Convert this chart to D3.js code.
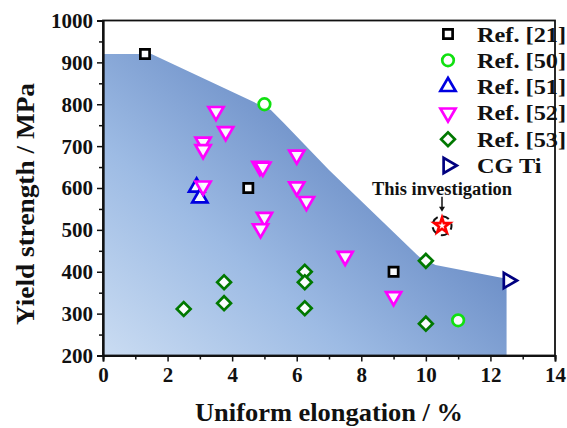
<!DOCTYPE html>
<html><head><meta charset="utf-8">
<script src="https://cdn.jsdelivr.net/npm/d3@7"></script>
<style>body{margin:0;background:#fff}svg{display:block}text{font-family:"Liberation Serif","Times New Roman",serif;font-weight:bold}</style>
</head><body>
<script>
const ref21 = [[1.3,920],[4.5,600],[9.0,400]];
const ref50 = [[5.0,800],[11.0,284]];
const ref51 = [[2.9,602],[3.0,576]];
const ref52 = [[3.5,783],[3.8,735],[3.1,710],[3.1,692],[3.1,605],[4.86,652],[4.95,650],[6.0,679],[6.0,603],[6.3,568],[5.0,530],[4.88,503],[7.5,437],[9.0,341]];
const ref53 = [[2.5,311],[3.75,375],[3.75,325],[6.25,400],[6.25,375],[6.25,313],[10.0,426],[10.0,276]];
const cgTi = [[12.55,379]];
const thisWork = [[10.5,510]];
const envelope = [[0,920],[1.5,920],[5.2,786],[5.6,755],[7.0,643],[9.8,435],[10.3,416],[12.5,383],[12.5,200],[0,200]];
const legendLabels = ["Ref. [21]","Ref. [50]","Ref. [51]","Ref. [52]","Ref. [53]","CG Ti"];
const xTicks = [0,2,4,6,8,10,12,14];
const yTicks = [200,300,400,500,600,700,800,900,1000];

const W=567,H=428;
const svg=d3.select("body").append("svg").attr("width",W).attr("height",H);
const x=d3.scaleLinear().domain([0,14]).range([103,555]);
const y=d3.scaleLinear().domain([200,1000]).range([355.5,20.5]);

const defs=svg.append("defs");
const g=defs.append("linearGradient").attr("id","fillg").attr("gradientUnits","userSpaceOnUse")
  .attr("x1",103).attr("y1",355).attr("x2",310).attr("y2",110);
g.append("stop").attr("offset",0).attr("stop-color","#cadcf2");
g.append("stop").attr("offset",0.5).attr("stop-color","#9dbbe4");
g.append("stop").attr("offset",1).attr("stop-color","#6e90c8");

svg.append("path").datum(envelope)
  .attr("d",d3.line().x(d=>x(d[0])).y(d=>y(d[1])))
  .attr("fill","url(#fillg)");

// frame
svg.append("rect").attr("x",x(0)).attr("y",y(1000)).attr("width",x(14)-x(0)).attr("height",y(200)-y(1000))
  .attr("fill","none").attr("stroke","#111").attr("stroke-width",1.8);

// axes
const xAxis=d3.axisBottom(x).tickValues(xTicks).tickSize(6).tickFormat(d3.format("d"));
const gx=svg.append("g").attr("transform",`translate(0,${y(200)})`).call(xAxis);
const yAxis=d3.axisLeft(y).tickValues(yTicks).tickSize(6).tickFormat(d3.format("d"));
const gy=svg.append("g").attr("transform",`translate(${x(0)},0)`).call(yAxis);
const xMinor=d3.axisBottom(x).tickValues(d3.range(1,14,2)).tickSize(4).tickFormat("");
svg.append("g").attr("transform",`translate(0,${y(200)})`).call(xMinor);
const yMinor=d3.axisLeft(y).tickValues(d3.range(250,1000,100)).tickSize(4).tickFormat("");
svg.append("g").attr("transform",`translate(${x(0)},0)`).call(yMinor);
svg.selectAll(".domain").attr("stroke","#111").attr("stroke-width",1.8);
svg.selectAll(".tick line").attr("stroke","#111").attr("stroke-width",1.5);
gx.selectAll("text").attr("font-size",21).attr("font-family","Liberation Serif").attr("font-weight","bold").attr("fill","#111").attr("dy","0.85em");
gy.selectAll("text").attr("font-size",21).attr("font-family","Liberation Serif").attr("font-weight","bold").attr("fill","#111").attr("x",-10).attr("dy","0.33em");

svg.append("text").attr("x",329).attr("y",421).attr("text-anchor","middle").attr("font-size",25)
  .attr("textLength",268).attr("lengthAdjust","spacingAndGlyphs").attr("fill","#111").text("Uniform elongation / %");
svg.append("text").attr("transform","translate(34,204) rotate(-90)").attr("text-anchor","middle").attr("font-size",25)
  .attr("textLength",242).attr("lengthAdjust","spacingAndGlyphs").attr("fill","#111").text("Yield strength / MPa");

// marker definitions
const series=[
  {data:ref21, color:"#000", sym:d3.symbolSquare, size:85, rot:0},
  {data:ref50, color:"#10e010", sym:d3.symbolCircle, size:105, rot:0},
  {data:ref51, color:"#0000e0", sym:d3.symbolTriangle, size:100, rot:0},
  {data:ref52, color:"#ff00ff", sym:d3.symbolTriangle, size:100, rot:180},
  {data:ref53, color:"#007800", sym:d3.symbolSquare, size:95, rot:45},
  {data:cgTi, color:"#000080", sym:d3.symbolTriangle, size:100, rot:90}
];
series.forEach(s=>{
  svg.append("g").selectAll("path").data(s.data).join("path")
    .attr("d",d3.symbol().type(s.sym).size(s.size))
    .attr("transform",d=>`translate(${x(d[0])},${y(d[1])}) rotate(${s.rot})`)
    .attr("fill","#fff").attr("fill-opacity",0.95).attr("stroke",s.color).attr("stroke-width",2.7);
});

// this investigation
thisWork.forEach(d=>{
  const cx=x(d[0]), cy=y(d[1]);
  svg.append("circle").attr("cx",cx).attr("cy",cy).attr("r",9.5).attr("fill","none").attr("stroke","#111").attr("stroke-width",2).attr("stroke-dasharray","7,5").attr("stroke-dashoffset",3);
  svg.append("path").attr("d",d3.symbol().type(d3.symbolStar).size(75)).attr("transform",`translate(${cx},${cy})`)
    .attr("fill","#fff").attr("stroke","#ff0000").attr("stroke-width",2.6);
  svg.append("line").attr("x1",cx).attr("x2",cx).attr("y1",cy-29).attr("y2",cy-18).attr("stroke","#111").attr("stroke-width",1.5);
  svg.append("path").attr("d",`M${cx-3},${cy-19}L${cx+3},${cy-19}L${cx},${cy-14}Z`).attr("fill","#111");
  svg.append("text").attr("x",cx).attr("y",cy-31).attr("text-anchor","middle").attr("font-size",18)
    .attr("textLength",140).attr("lengthAdjust","spacingAndGlyphs").attr("fill","#111").text("This investigation");
});

// legend
const lg=svg.append("g");
legendLabels.forEach((lab,i)=>{
  const s=series[i];
  const ly=34+i*26.3;
  lg.append("path").attr("d",d3.symbol().type(s.sym).size(s.size))
    .attr("transform",`translate(448,${ly}) rotate(${s.rot})`)
    .attr("fill","#fff").attr("stroke",s.color).attr("stroke-width",2.7);
  lg.append("text").attr("transform",`translate(477,${ly+7.5}) scale(1.13,1)`).attr("font-size",21.5).attr("fill","#111").text(lab);
});
</script>
</body></html>
